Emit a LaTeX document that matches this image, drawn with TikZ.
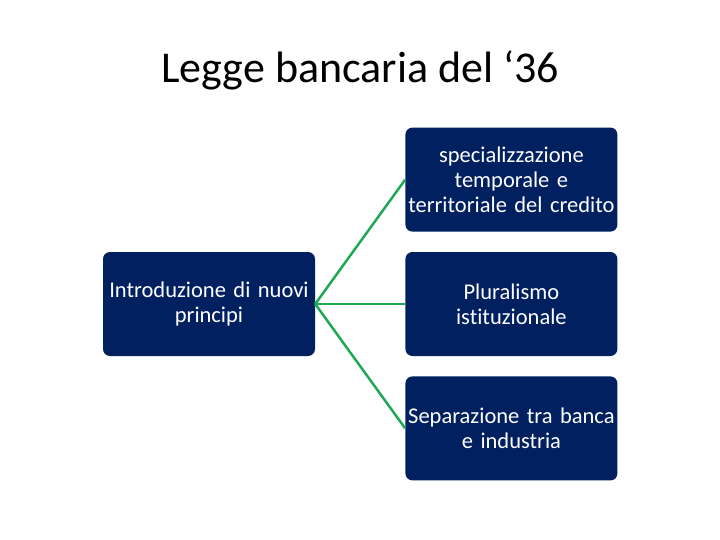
\documentclass[tikz,border=0pt]{standalone}
\usepackage{fontspec}
\setmainfont{Carlito}[Ligatures=NoCommon]
\newfontfamily\boxfont{Carlito}[Ligatures=NoCommon,WordSpace=0.75]
\definecolor{BoxBlue}{HTML}{002060}
\definecolor{LinkGreen}{HTML}{1EAA55}
\usetikzlibrary{positioning}

\begin{document}
\begin{tikzpicture}[x=1pt,y=-1pt,node distance=20pt,
  topic/.style={fill=BoxBlue,rounded corners=7pt,text=white,align=center,
    minimum width=212pt,minimum height=104pt,text width=210pt,inner sep=1pt,
    font=\boxfont\fontsize{22.5}{25}\selectfont},
  link/.style={LinkGreen,line width=2.5pt}]
  \useasboundingbox (0,0) rectangle (720,540);
  \node (title) at (360,70) {\fontsize{44}{52}\selectfont Legge bancaria del ‘36};
  \node[topic] (intro) at (209,304) {Introduzione di nuovi\\principi};
  \node[topic,right=90pt of intro] (plural) {Pluralismo\\istituzionale};
  \node[topic,above=of plural] (spec) {specializzazione\\temporale e\\territoriale del credito};
  \node[topic,below=of plural] (separ) {Separazione tra banca\\e industria};
  % rami
  \draw[link] (intro.east) -- (spec.west);
  \draw[link] (intro.east) -- (plural.west);
  \draw[link] (intro.east) -- (separ.west);
\end{tikzpicture}
\end{document}
